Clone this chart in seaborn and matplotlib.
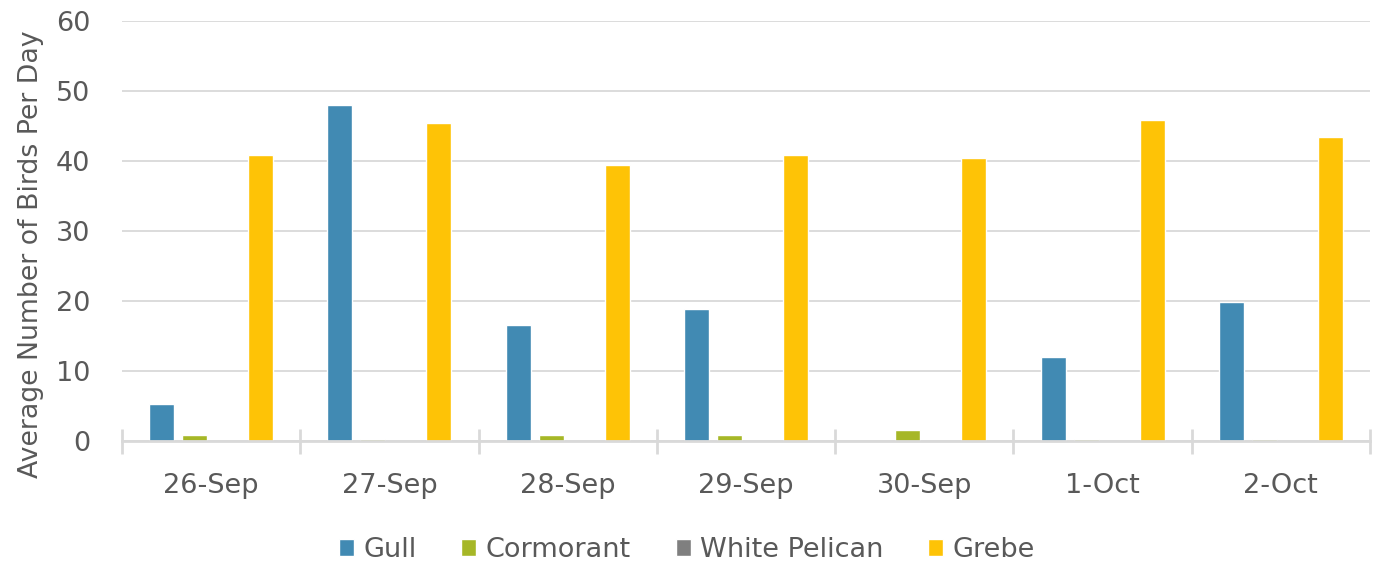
import matplotlib.pyplot as plt
import pandas as pd
import seaborn as sns
import numpy as np

days = ["26-Sep", "27-Sep", "28-Sep", "29-Sep", "30-Sep", "1-Oct", "2-Oct"]
species = ["Gull", "Cormorant", "White Pelican", "Grebe"]
gull = [5.3, 48.0, 16.6, 18.9, 0.0, 12.0, 19.9]
cormorant = [0.9, 0.3, 0.9, 0.9, 1.6, 0.3, 0.3]
white_pelican = [0, 0, 0, 0, 0, 0, 0]
grebe = [40.9, 45.4, 39.4, 40.9, 40.4, 45.9, 43.4]
colors = ["#418AB3", "#A6B727", "#7F7F7F", "#FEC306"]

df = pd.DataFrame({"Day": days * 4,
                   "Species": np.repeat(species, len(days)),
                   "Birds": gull + cormorant + white_pelican + grebe})

sns.set_style("white")
plt.rcParams['font.family'] = ['DejaVu Sans']
fs = 19.5
fig = plt.figure(figsize=(13.74, 5.70), dpi=100)
ax = fig.add_axes([122/1374, 1 - 441/570, 1248/1374, 420/570])

sns.barplot(data=df, x="Day", y="Birds", hue="Species", order=days, hue_order=species,
            palette=colors, width=0.74, gap=0.24, ax=ax, saturation=1, legend=True)

ax.set_ylim(0, 60)
ax.set_xlim(-0.5, len(days) - 0.5)
ax.set_yticks(range(0, 61, 10))
ax.yaxis.grid(True, color="#D9D9D9", linewidth=1.3)
ax.set_axisbelow(True)
for s in ["top", "right", "left"]:
    ax.spines[s].set_visible(False)
ax.spines["bottom"].set_color("#D9D9D9")
ax.spines["bottom"].set_linewidth(2)
ax.tick_params(axis="y", length=0, labelsize=fs, labelcolor="#595959", pad=23)
ax.tick_params(axis="x", which="major", bottom=True, length=0, labelsize=fs,
               labelcolor="#595959", pad=23)
ax.set_xticks(np.arange(-0.5, len(days), 1), minor=True)
ax.tick_params(axis="x", which="minor", bottom=True, direction="inout", length=18,
               width=2, color="#D9D9D9")
ax.set_xlabel("")
ax.set_ylabel("Average Number of Birds Per Day", fontsize=19.3, color="#595959")
ax.yaxis.set_label_coords(-0.0625, 0.445)

ax.legend(loc="center", bbox_to_anchor=(0.5, 1 - 550/570), bbox_transform=fig.transFigure,
          ncol=4, frameon=False,
          fontsize=fs, labelcolor="#595959", handlelength=0.55, handleheight=0.55,
          handletextpad=0.35, columnspacing=1.65)

fig.savefig("out.png", dpi=100)
